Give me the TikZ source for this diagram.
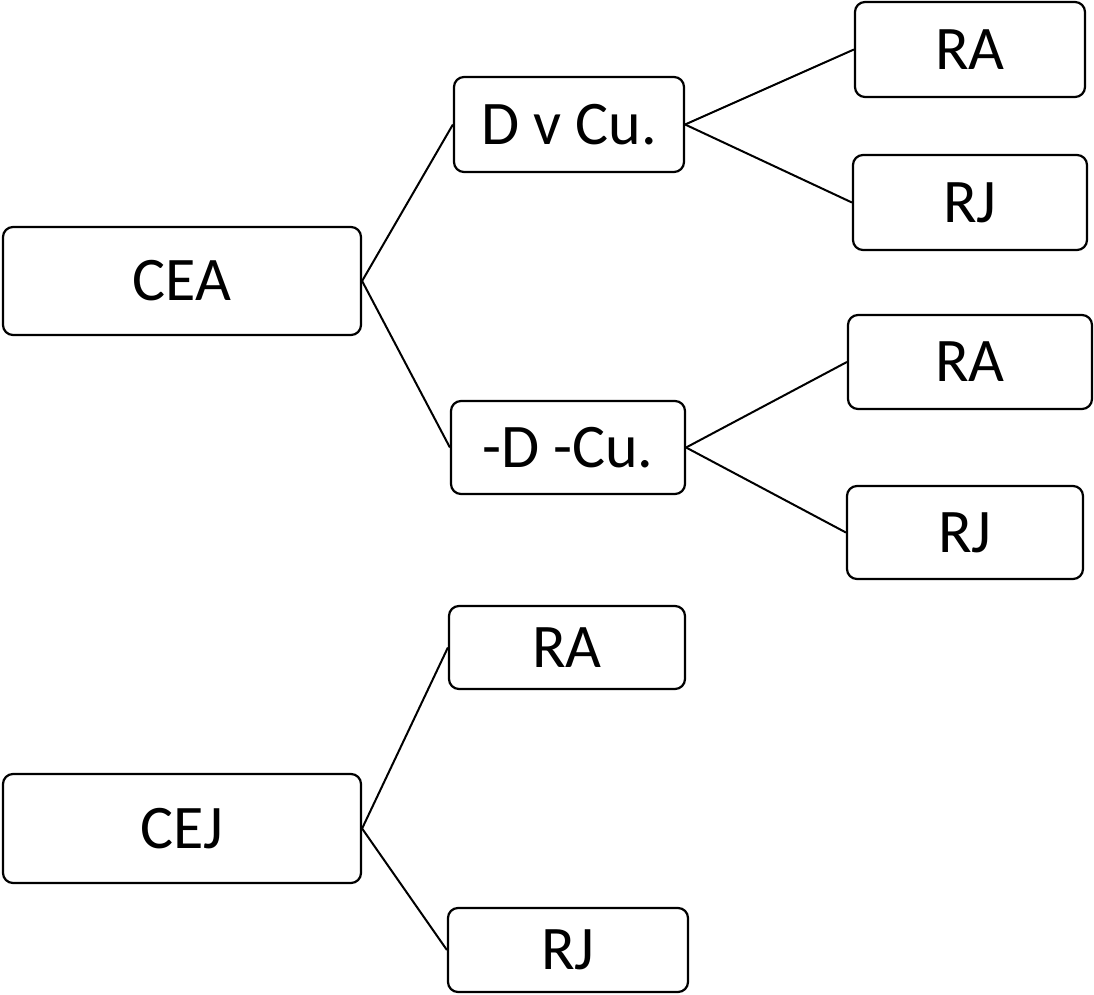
\documentclass[tikz,border=0pt]{standalone}
\usepackage{fontspec}
\setmainfont{Carlito}
\usepackage{tikz}

\begin{document}
\begin{tikzpicture}[x=1pt,y=-1pt,
  box/.style={draw, line width=2.2pt, rounded corners=10pt, inner sep=0pt,
    font=\fontsize{62}{70}\selectfont},
  link/.style={line width=2pt}]
\useasboundingbox (0,0) rectangle (1094,995);
\node [box, minimum width=358pt, minimum height=108pt] (cea) at (182,281) {CEA};
\node [box, minimum width=230pt, minimum height=95pt] (dvcu) at (569,124.5) {D v Cu.};
\node [box, minimum width=234pt, minimum height=93pt] (ndcu) at (568,447.5) {-D -Cu.};
\node [box, minimum width=230pt, minimum height=95pt] (ra1) at (970,49.5) {RA};
\node [box, minimum width=234pt, minimum height=95pt] (rj1) at (970,202.5) {RJ};
\node [box, minimum width=244pt, minimum height=94pt] (ra2) at (970,362) {RA};
\node [box, minimum width=236pt, minimum height=93pt] (rj2) at (965,532.5) {RJ};
\node [box, minimum width=358pt, minimum height=109pt] (cej) at (182,828.5) {CEJ};
\node [box, minimum width=236pt, minimum height=83pt] (ra3) at (567,647.5) {RA};
\node [box, minimum width=240pt, minimum height=84pt] (rj3) at (568,950) {RJ};

\draw [link] (cea.east) -- (dvcu.west);
\draw [link] (cea.east) -- (ndcu.west);
\draw [link] (dvcu.east) -- (ra1.west);
\draw [link] (dvcu.east) -- (rj1.west);
\draw [link] (ndcu.east) -- (ra2.west);
\draw [link] (ndcu.east) -- (rj2.west);
\draw [link] (cej.east) -- (ra3.west);
\draw [link] (cej.east) -- (rj3.west);

\end{tikzpicture}
\end{document}
